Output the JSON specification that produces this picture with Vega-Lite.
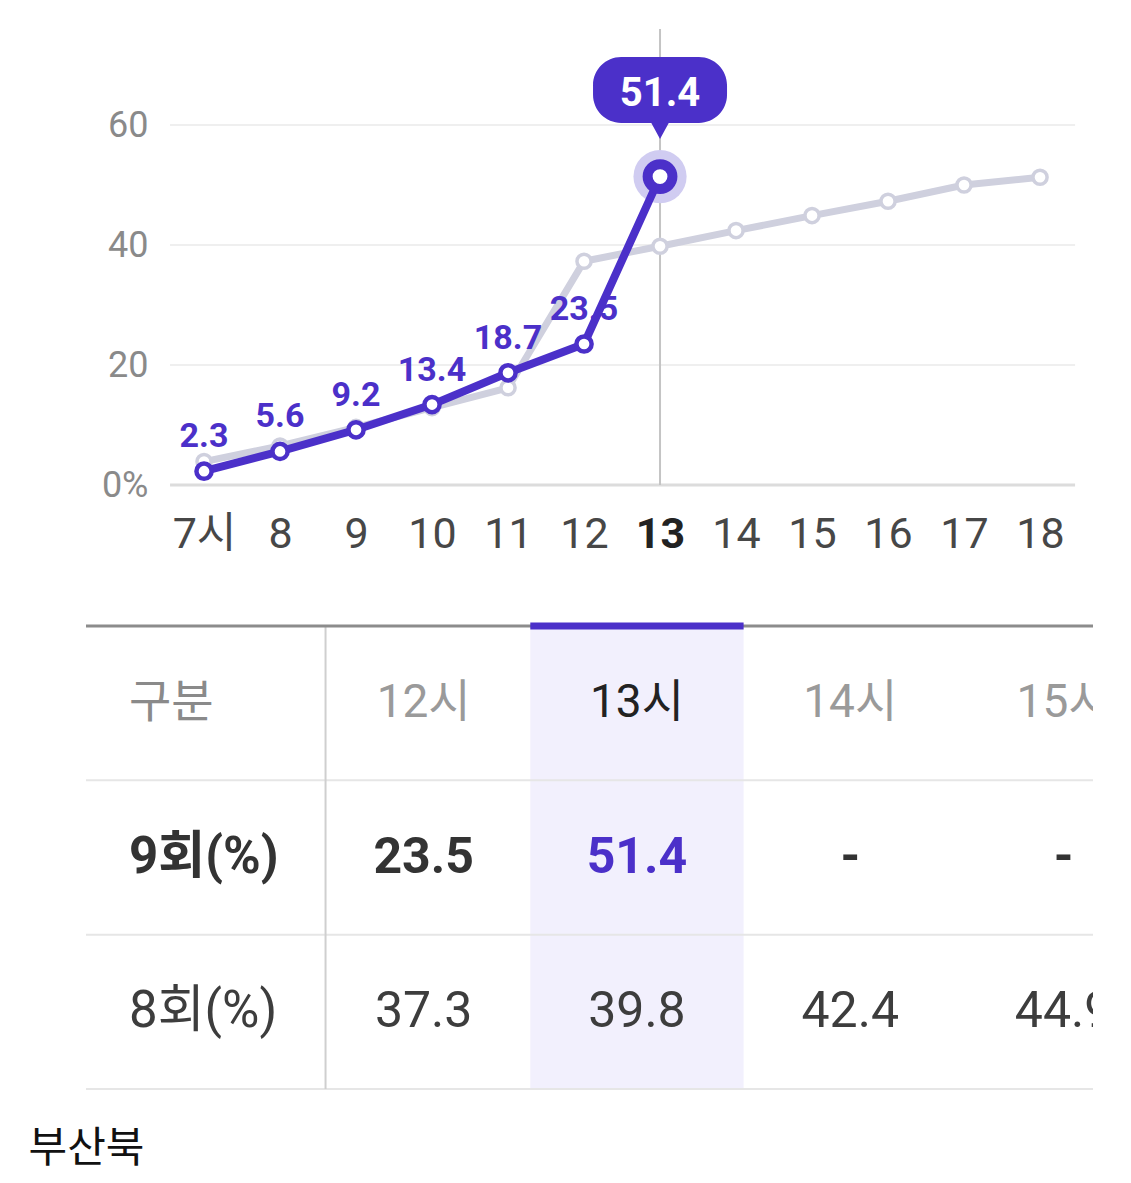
{
  "$schema": "https://vega.github.io/schema/vega-lite/v6.json",
  "background": "white",
  "padding": {"left": 28, "top": 28, "right": 38, "bottom": 8},
  "bounds": "flush",
  "spacing": 141,
  "config": {
    "view": {"stroke": null},
    "font": "Roboto, Noto Sans CJK KR",
    "axis": {"grid": false, "domain": false, "ticks": false, "tickSize": 0}
  },
  "title": {
    "text": "부산북",
    "orient": "bottom",
    "anchor": "start",
    "dx": -56,
    "offset": 39,
    "baseline": "top",
    "fontSize": 42,
    "fontWeight": "normal",
    "color": "#111111",
    "font": "Noto Sans CJK KR"
  },
  "datasets": {
    "turnout": [
      {"series": "9회", "hour": 7, "value": 2.3},
      {"series": "9회", "hour": 8, "value": 5.6},
      {"series": "9회", "hour": 9, "value": 9.2},
      {"series": "9회", "hour": 10, "value": 13.4},
      {"series": "9회", "hour": 11, "value": 18.7},
      {"series": "9회", "hour": 12, "value": 23.5},
      {"series": "9회", "hour": 13, "value": 51.4},
      {"series": "8회", "hour": 7, "value": 3.9},
      {"series": "8회", "hour": 8, "value": 6.5},
      {"series": "8회", "hour": 9, "value": 9.6},
      {"series": "8회", "hour": 10, "value": 12.9},
      {"series": "8회", "hour": 11, "value": 16.2},
      {"series": "8회", "hour": 12, "value": 37.3},
      {"series": "8회", "hour": 13, "value": 39.8},
      {"series": "8회", "hour": 14, "value": 42.4},
      {"series": "8회", "hour": 15, "value": 44.9},
      {"series": "8회", "hour": 16, "value": 47.3},
      {"series": "8회", "hour": 17, "value": 50.0},
      {"series": "8회", "hour": 18, "value": 51.3}
    ],
    "table": [
      {"hour": 12, "row": 0, "text": "12시"},
      {"hour": 13, "row": 0, "text": "13시"},
      {"hour": 14, "row": 0, "text": "14시"},
      {"hour": 15, "row": 0, "text": "15시"},
      {"hour": 12, "row": 1, "text": "23.5"},
      {"hour": 13, "row": 1, "text": "51.4"},
      {"hour": 14, "row": 1, "text": "-"},
      {"hour": 15, "row": 1, "text": "-"},
      {"hour": 12, "row": 2, "text": "37.3"},
      {"hour": 13, "row": 2, "text": "39.8"},
      {"hour": 14, "row": 2, "text": "42.4"},
      {"hour": 15, "row": 2, "text": "44.9"}
    ],
    "rowlabels": [
      {"row": 0, "text": "구분"},
      {"row": 1, "text": "9회(%)"},
      {"row": 2, "text": "8회(%)"}
    ]
  },
  "vconcat": [
    {
      "width": 1007,
      "height": 456,
      "layer": [
        {
          "data": {"values": [{"g": 0}, {"g": 20}, {"g": 40}, {"g": 60}]},
          "mark": {"type": "rule"},
          "encoding": {
            "x": {"datum": 6.553, "type": "quantitative", "scale": {"domain": [5.447, 18.697], "nice": false, "zero": false}},
            "x2": {"datum": 18.461},
            "y": {"field": "g", "type": "quantitative", "scale": {"domain": [0, 76], "nice": false, "zero": false}},
            "color": {"condition": {"test": "datum.g == 0", "value": "#dcdcdc"}, "value": "#efefef"},
            "strokeWidth": {"condition": {"test": "datum.g == 0", "value": 3}, "value": 2}
          }
        },
        {
          "data": {"name": "turnout"},
          "transform": [{"filter": "datum.series == '9회' && datum.hour == 13"}],
          "mark": {"type": "rule", "color": "#c4c4c4", "strokeWidth": 2},
          "encoding": {
            "x": {"field": "hour", "type": "quantitative"},
            "y": {"datum": 0, "type": "quantitative"},
            "y2": {"datum": 76}
          }
        },
        {
          "data": {"name": "turnout"},
          "transform": [{"filter": "datum.series == '8회'"}],
          "mark": {"type": "line", "color": "#cfd0de", "strokeWidth": 7},
          "encoding": {
            "x": {
              "field": "hour",
              "type": "quantitative",
              "axis": {
                "values": [7, 8, 9, 10, 11, 12, 13, 14, 15, 16, 17, 18],
                "format": "d",
                "labelExpr": "datum.value == 7 ? '7시' : datum.label",
                "labelFontSize": 43,
                "labelColor": {"condition": {"test": "datum.value == 13", "value": "#222222"}, "value": "#474747"},
                "labelFontWeight": {"condition": {"test": "datum.value == 13", "value": "bold"}, "value": "normal"},
                "labelPadding": 28,
                "labelFlush": false,
                "labelOverlap": false,
                "labelBaseline": "top",
                "title": null
              }
            },
            "y": {
              "field": "value",
              "type": "quantitative",
              "axis": {
                "values": [0, 20, 40, 60],
                "labelExpr": "datum.value == 0 ? '0%' : datum.label",
                "labelFontSize": 36,
                "labelColor": "#8a8a8a",
                "offset": -84,
                "labelPadding": 22,
                "title": null
              }
            }
          }
        },
        {
          "data": {"name": "turnout"},
          "transform": [{"filter": "datum.series == '8회'"}],
          "mark": {"type": "point", "shape": "circle", "filled": true, "fill": "white", "stroke": "#cfd0de", "strokeWidth": 3.5, "size": 200, "opacity": 1},
          "encoding": {
            "x": {"field": "hour", "type": "quantitative"},
            "y": {"field": "value", "type": "quantitative"}
          }
        },
        {
          "data": {"name": "turnout"},
          "transform": [{"filter": "datum.series == '9회' && datum.hour == 13"}],
          "mark": {"type": "point", "shape": "circle", "filled": true, "color": "#d0ccf1", "size": 2827, "opacity": 1},
          "encoding": {
            "x": {"field": "hour", "type": "quantitative"},
            "y": {"field": "value", "type": "quantitative"}
          }
        },
        {
          "data": {"name": "turnout"},
          "transform": [{"filter": "datum.series == '9회'"}],
          "mark": {"type": "line", "color": "#4b30c9", "strokeWidth": 8},
          "encoding": {
            "x": {"field": "hour", "type": "quantitative"},
            "y": {"field": "value", "type": "quantitative"}
          }
        },
        {
          "data": {"name": "turnout"},
          "transform": [{"filter": "datum.series == '9회' && datum.hour != 13"}],
          "mark": {"type": "point", "shape": "circle", "filled": true, "fill": "white", "stroke": "#4b30c9", "strokeWidth": 4.5, "size": 230, "opacity": 1},
          "encoding": {
            "x": {"field": "hour", "type": "quantitative"},
            "y": {"field": "value", "type": "quantitative"}
          }
        },
        {
          "data": {"name": "turnout"},
          "transform": [{"filter": "datum.series == '9회' && datum.hour != 13"}],
          "mark": {"type": "text", "color": "#4b30c9", "fontSize": 34, "fontWeight": "bold", "dy": -34, "baseline": "middle", "align": "center"},
          "encoding": {
            "x": {"field": "hour", "type": "quantitative"},
            "y": {"field": "value", "type": "quantitative"},
            "text": {"field": "value", "type": "quantitative", "format": ".1f"}
          }
        },
        {
          "data": {"name": "turnout"},
          "transform": [{"filter": "datum.series == '9회' && datum.hour == 13"}],
          "mark": {
            "type": "point",
            "filled": true,
            "color": "#4b30c9",
            "opacity": 1,
            "size": 17956,
            "shape": "M -0.58 -1.785 L 0.58 -1.785 A 0.42 0.42 0 0 1 1 -1.365 L 1 -1.22 A 0.42 0.42 0 0 1 0.58 -0.8 L 0.13 -0.8 L 0 -0.561 L -0.13 -0.8 L -0.58 -0.8 A 0.42 0.42 0 0 1 -1 -1.22 L -1 -1.365 A 0.42 0.42 0 0 1 -0.58 -1.785 Z"
          },
          "encoding": {
            "x": {"field": "hour", "type": "quantitative"},
            "y": {"field": "value", "type": "quantitative"}
          }
        },
        {
          "data": {"name": "turnout"},
          "transform": [{"filter": "datum.series == '9회' && datum.hour == 13"}],
          "mark": {"type": "text", "color": "white", "fontSize": 40, "fontWeight": "bold", "dy": -83, "baseline": "middle", "align": "center"},
          "encoding": {
            "x": {"field": "hour", "type": "quantitative"},
            "y": {"field": "value", "type": "quantitative"},
            "text": {"field": "value", "type": "quantitative", "format": ".1f"}
          }
        },
        {
          "data": {"name": "turnout"},
          "transform": [{"filter": "datum.series == '9회' && datum.hour == 13"}],
          "mark": {"type": "point", "shape": "circle", "filled": true, "fill": "white", "stroke": "#4b30c9", "strokeWidth": 10, "size": 616, "opacity": 1},
          "encoding": {
            "x": {"field": "hour", "type": "quantitative"},
            "y": {"field": "value", "type": "quantitative"}
          }
        }
      ]
    },
    {
      "width": 1007,
      "height": 463,
      "layer": [
        {
          "data": {"values": [{"hour": 13}]},
          "mark": {"type": "rect", "color": "#f2f0fd"},
          "encoding": {
            "x": {"datum": 12.5, "type": "quantitative", "axis": null, "scale": {"domain": [10.417, 15.138], "nice": false, "zero": false}},
            "x2": {"datum": 13.5},
            "y": {"datum": -0.5, "type": "quantitative", "axis": null, "scale": {"domain": [-0.5, 2.5], "nice": false, "zero": false, "reverse": true}},
            "y2": {"datum": 2.5}
          }
        },
        {
          "data": {"values": [{"b": 0.5}, {"b": 1.5}, {"b": 2.5}]},
          "mark": {"type": "rule", "color": "#e6e6e6", "strokeWidth": 2},
          "encoding": {
            "x": {"datum": 10.417, "type": "quantitative", "axis": null},
            "x2": {"datum": 15.138},
            "y": {"field": "b", "type": "quantitative", "axis": null}
          }
        },
        {
          "data": {"values": [{"b": 11.54}]},
          "mark": {"type": "rule", "color": "#cfcfcf", "strokeWidth": 2},
          "encoding": {
            "x": {"field": "b", "type": "quantitative", "axis": null},
            "y": {"datum": -0.5, "type": "quantitative", "axis": null},
            "y2": {"datum": 2.5}
          }
        },
        {
          "data": {"values": [{"b": -0.5}]},
          "mark": {"type": "rule", "color": "#8c8c8c", "strokeWidth": 3},
          "encoding": {
            "x": {"datum": 10.417, "type": "quantitative", "axis": null},
            "x2": {"datum": 15.138},
            "y": {"field": "b", "type": "quantitative", "axis": null}
          }
        },
        {
          "data": {"values": [{"b": -0.5}]},
          "mark": {"type": "rule", "color": "#4b30c9", "strokeWidth": 7},
          "encoding": {
            "x": {"datum": 12.5, "type": "quantitative", "axis": null},
            "x2": {"datum": 13.5},
            "y": {"field": "b", "type": "quantitative", "axis": null}
          }
        },
        {
          "data": {"name": "table"},
          "transform": [{"filter": "datum.row == 0"}],
          "mark": {"type": "text", "fontSize": 46, "fontWeight": "normal", "baseline": "middle", "align": "center", "clip": true},
          "encoding": {
            "x": {"field": "hour", "type": "quantitative", "axis": null},
            "y": {"field": "row", "type": "quantitative", "axis": null},
            "text": {"field": "text"},
            "color": {"condition": {"test": "datum.hour == 13", "value": "#222222"}, "value": "#9a9a9a"}
          }
        },
        {
          "data": {"name": "table"},
          "transform": [{"filter": "datum.row == 1"}],
          "mark": {"type": "text", "fontSize": 50, "fontWeight": "bold", "baseline": "middle", "align": "center", "clip": true},
          "encoding": {
            "x": {"field": "hour", "type": "quantitative", "axis": null},
            "y": {"field": "row", "type": "quantitative", "axis": null},
            "text": {"field": "text"},
            "color": {"condition": {"test": "datum.hour == 13", "value": "#4b30c9"}, "value": "#333333"}
          }
        },
        {
          "data": {"name": "table"},
          "transform": [{"filter": "datum.row == 2"}],
          "mark": {"type": "text", "fontSize": 50, "fontWeight": "normal", "baseline": "middle", "align": "center", "clip": true, "color": "#3d3d3d"},
          "encoding": {
            "x": {"field": "hour", "type": "quantitative", "axis": null},
            "y": {"field": "row", "type": "quantitative", "axis": null},
            "text": {"field": "text"}
          }
        },
        {
          "data": {"name": "rowlabels"},
          "transform": [{"filter": "datum.row == 0"}],
          "mark": {"type": "text", "fontSize": 46, "fontWeight": "normal", "baseline": "middle", "align": "left", "dx": 43, "color": "#8a8a8a"},
          "encoding": {
            "x": {"datum": 10.417, "type": "quantitative", "axis": null},
            "y": {"field": "row", "type": "quantitative", "axis": null},
            "text": {"field": "text"}
          }
        },
        {
          "data": {"name": "rowlabels"},
          "transform": [{"filter": "datum.row == 1"}],
          "mark": {"type": "text", "fontSize": 51, "fontWeight": "bold", "baseline": "middle", "align": "left", "dx": 43, "color": "#333333"},
          "encoding": {
            "x": {"datum": 10.417, "type": "quantitative", "axis": null},
            "y": {"field": "row", "type": "quantitative", "axis": null},
            "text": {"field": "text"}
          }
        },
        {
          "data": {"name": "rowlabels"},
          "transform": [{"filter": "datum.row == 2"}],
          "mark": {"type": "text", "fontSize": 51, "fontWeight": "normal", "baseline": "middle", "align": "left", "dx": 43, "color": "#3d3d3d"},
          "encoding": {
            "x": {"datum": 10.417, "type": "quantitative", "axis": null},
            "y": {"field": "row", "type": "quantitative", "axis": null},
            "text": {"field": "text"}
          }
        }
      ]
    }
  ]
}
